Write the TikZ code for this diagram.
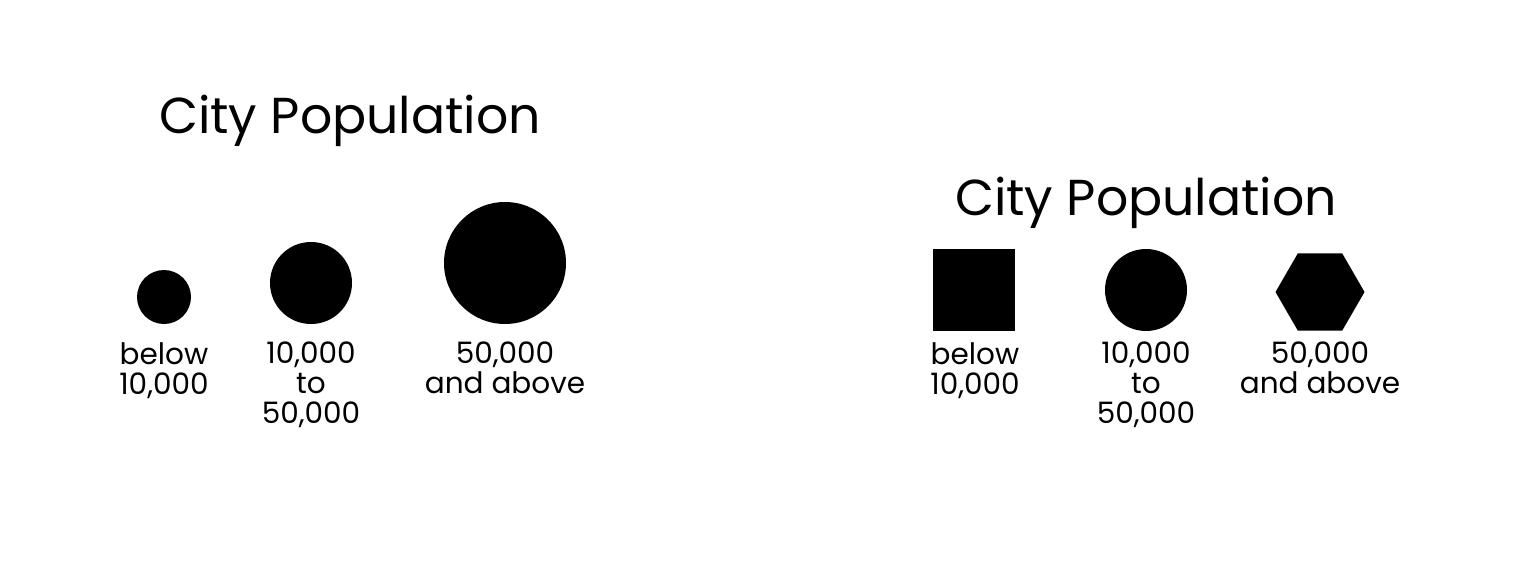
\documentclass[tikz,border=0pt]{standalone}
\usepackage{fontspec}
\setmainfont{Poppins}
\usetikzlibrary{shapes.geometric}
\tikzset{
  title/.style={anchor=base, inner sep=0pt, font=\fontsize{50.5}{60}\selectfont},
  lbl/.style={anchor=north, inner sep=0pt, align=center, font=\fontsize{29.5}{30}\selectfont},
  sym/.style={fill=black, draw=none, inner sep=0pt}
}
\begin{document}
\begin{tikzpicture}[x=1pt,y=-1pt]
\useasboundingbox (0,0) rectangle (1528,562);
% left legend
\node[title] (t1) at (350,133) {City Population};
\node[sym, circle, minimum size=54pt] (c1) at (164,297) {};
\node[sym, circle, minimum size=82pt] (c2) at (311,283) {};
\node[sym, circle, minimum size=122pt] (c3) at (505,263) {};
\node[lbl] (l1) at (164,342) {below\\10,000};
\node[lbl] (l2) at (311,342) {10,000\\to\\50,000};
\node[lbl] (l3) at (505,342) {50,000\\and above};
% right legend
\node[title] (t2) at (1146,215) {City Population};
\node[sym, rectangle, minimum size=82pt] (s1) at (974,290) {};
\node[sym, circle, minimum size=82pt] (s2) at (1146,290) {};
\node[sym, regular polygon, regular polygon sides=6, minimum size=89pt] (s3) at (1320,292) {};
\node[lbl] (r1) at (975,342) {below\\10,000};
\node[lbl] (r2) at (1146,342) {10,000\\to\\50,000};
\node[lbl] (r3) at (1320,342) {50,000\\and above};
\end{tikzpicture}
\end{document}
